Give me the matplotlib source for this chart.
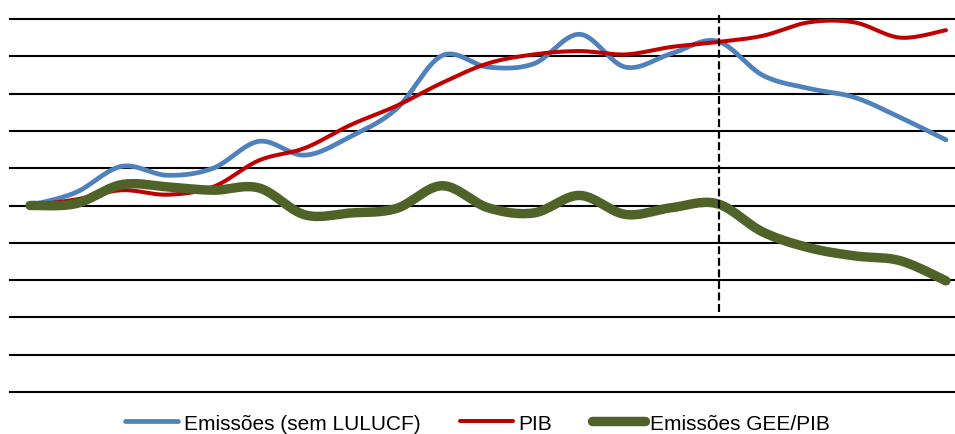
import numpy as np
import matplotlib
matplotlib.use("Agg")
import matplotlib.pyplot as plt
from matplotlib.lines import Line2D

plt.rcParams['font.family'] = ['Liberation Sans', 'DejaVu Sans']

years = list(range(1990, 2011))
emissoes = [100, 103.5, 110.5, 108.1, 110.0, 117.2, 113.5, 118.5, 125.9, 140.2,
            137.1, 138.0, 145.9, 137.1, 140.7, 144.1, 134.9, 131.4, 129.0, 123.6, 117.6]
pib = [100, 101.6, 104.1, 102.9, 105.0, 112.1, 115.4, 121.6, 126.7, 132.9,
       138.1, 140.5, 141.4, 140.5, 142.5, 143.8, 145.5, 149.1, 149.1, 145.0, 147.0]
gee_pib = [100, 100.5, 105.6, 105.0, 104.1, 104.7, 97.5, 98.0, 99.2, 105.3,
           99.4, 98.0, 102.7, 97.6, 99.4, 100.5, 92.9, 88.7, 86.5, 85.2, 79.8]
labels = ["Emissões (sem LULUCF)", "PIB", "Emissões GEE/PIB"]
colors = ["#4F81BD", "#C00000", "#4F6228"]
widths = [3.4, 2.9, 6.8]
marker_year = 2005
y_ticks = list(range(50, 151, 10))


def smooth(x, y, n=30):
    x = np.asarray(x, float)
    y = np.asarray(y, float)
    xs, ys = [], []
    m = len(x)
    for i in range(m - 1):
        p0 = (x[max(i - 1, 0)], y[max(i - 1, 0)])
        p1 = (x[i], y[i])
        p2 = (x[i + 1], y[i + 1])
        p3 = (x[min(i + 2, m - 1)], y[min(i + 2, m - 1)])
        c1 = (p1[0] + (p2[0] - p0[0]) / 6, p1[1] + (p2[1] - p0[1]) / 6)
        c2 = (p2[0] - (p3[0] - p1[0]) / 6, p2[1] - (p3[1] - p1[1]) / 6)
        t = np.linspace(0, 1, n, endpoint=(i == m - 2))
        b0 = (1 - t) ** 3
        b1 = 3 * (1 - t) ** 2 * t
        b2 = 3 * (1 - t) * t ** 2
        b3 = t ** 3
        xs.append(b0 * p1[0] + b1 * c1[0] + b2 * c2[0] + b3 * p2[0])
        ys.append(b0 * p1[1] + b1 * c1[1] + b2 * c2[1] + b3 * p2[1])
    return np.concatenate(xs), np.concatenate(ys)


fig = plt.figure(figsize=(9.55, 4.35), dpi=100)
ax = fig.add_axes([10 / 955, 1 - 393 / 435, 945 / 955, 373 / 435])

for yt in y_ticks:
    ax.axhline(yt, color="black", lw=1.5, zorder=1, clip_on=False)

for series, c, w in zip([emissoes, pib, gee_pib], colors, widths):
    sx, sy = smooth(years, series)
    ax.plot(sx, sy, color=c, lw=w, solid_capstyle="round", zorder=3)

ax.set_ylim(50, 150)
ax.set_xlim(years[0] - 0.437, years[-1] + 0.197)
ax.set_xticks([])
ax.set_yticks([])
for s in ax.spines.values():
    s.set_visible(False)

ax.axvline(marker_year + 0.04, ymin=0.214, ymax=1.018, color="black", lw=1.6,
           ls=(0, (3.6, 1.6)), zorder=4, clip_on=False)

handles = [Line2D([], [], color=c, lw=w, solid_capstyle="round")
           for c, w in zip(colors, widths)]
fig.legend(handles, labels, loc="center", bbox_to_anchor=(0.5, 0.025), ncol=3,
           frameon=False, fontsize=15, handlelength=2.55, handletextpad=0.25,
           columnspacing=1.9, borderpad=0, borderaxespad=0)

fig.savefig("out.png", dpi=100)
